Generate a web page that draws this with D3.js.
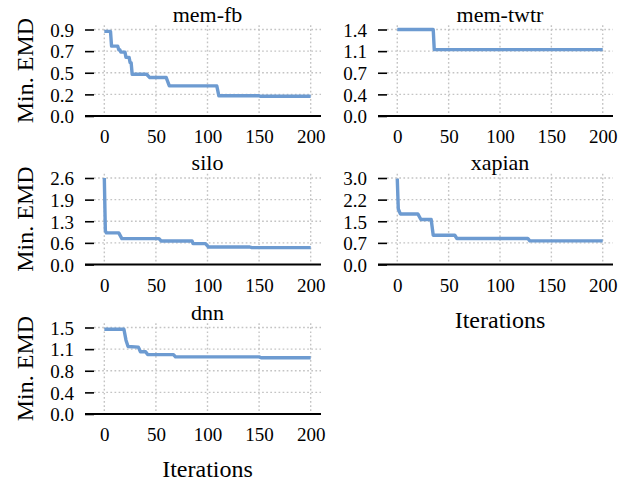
<!DOCTYPE html>
<meta charset="utf-8">
<style>
    body { margin: 0; background: #fff; }
    svg { display: block; }
    .grid line { stroke: #c4c4c4; stroke-width: 1.4; stroke-dasharray: 1.7,2.4; }
    .emd { fill: none; stroke: #6d9bd1; stroke-width: 3.4; stroke-linejoin: round; }
</style>
<svg width="641" height="483"></svg>
<script src="https://d3js.org/d3.v7.min.js"></script>
<script>

    // panel titles, in drawing order
    var titles = ["mem-fb", "mem-twtr", "silo", "xapian", "dnn"];

    // x ticks (iterations)
    var xTicks = [0, 50, 100, 150, 200];

    // min EMD so far
    var memFbIter = [0, 6, 7, 13, 14, 15, 16, 20, 21, 24, 25, 26, 27, 41, 44, 60, 63, 109, 111, 150, 151, 200];
    var memFbEmd  = [0.88, 0.88, 0.727, 0.727, 0.69, 0.69, 0.665, 0.665, 0.61, 0.61, 0.555, 0.555, 0.434, 0.434, 0.40, 0.40, 0.313, 0.313, 0.21, 0.21, 0.205, 0.205];

    var memTwtrIter = [0, 35, 36, 200];
    var memTwtrEmd  = [1.42, 1.42, 1.09, 1.09];

    var siloIter = [0, 1, 2, 14, 17, 53, 55, 85, 86, 98, 101, 141, 143, 200];
    var siloEmd  = [2.57, 1.0, 0.94, 0.94, 0.77, 0.77, 0.70, 0.70, 0.62, 0.62, 0.52, 0.52, 0.50, 0.50];

    var xapianIter = [0, 1, 3, 20, 23, 33, 35, 56, 58, 127, 129, 200];
    var xapianEmd  = [2.94, 1.9, 1.73, 1.73, 1.54, 1.54, 1.0, 1.0, 0.89, 0.89, 0.81, 0.81];

    var dnnIter = [0, 19, 21, 23, 33, 35, 40, 42, 67, 69, 150, 152, 200];
    var dnnEmd  = [1.47, 1.47, 1.28, 1.17, 1.16, 1.08, 1.08, 1.03, 1.03, 0.99, 0.99, 0.975, 0.975];

    // y axis top value and tick labels per panel
    var yMax = [0.9, 1.42, 2.57, 2.96, 1.5];
    var yTickLabels = [
        ["0.0", "0.2", "0.5", "0.7", "0.9"],
        ["0.0", "0.4", "0.7", "1.1", "1.4"],
        ["0.0", "0.6", "1.3", "1.9", "2.6"],
        ["0.0", "0.7", "1.5", "2.2", "3.0"],
        ["0.0", "0.4", "0.8", "1.1", "1.5"]
    ];

    var series = [
        [memFbIter, memFbEmd],
        [memTwtrIter, memTwtrEmd],
        [siloIter, siloEmd],
        [xapianIter, xapianEmd],
        [dnnIter, dnnEmd]
    ];

    var serif = "'Liberation Serif', 'Times New Roman', serif";
    var svg = d3.select("svg");

    var colLeft = [94, 387],
        colWidth = [227, 226],
        rowAxis = [116, 264.5, 414],
        tickH = 86.5;

    titles.forEach(function(title, i) {
        var col = i % 2, row = Math.floor(i / 2);
        var left = colLeft[col], right = left + colWidth[col];
        var bottom = rowAxis[row], top = bottom - tickH * 1.05;

        var x = d3.scaleLinear().domain([-10, 210]).range([left, right]);
        var y = d3.scaleLinear().domain([0, yMax[i] * 1.05]).range([bottom, top]);
        var yTicks = d3.range(5).map(function(k) { return yMax[i] * k / 4; });

        var g = svg.append("g");

        // grid
        var grid = g.append("g").attr("class", "grid");
        grid.selectAll(".gx").data(xTicks).enter().append("line")
            .attr("x1", function(d) { return x(d); })
            .attr("x2", function(d) { return x(d); })
            .attr("y1", top).attr("y2", bottom);
        grid.selectAll(".gy").data(yTicks.slice(1)).enter().append("line")
            .attr("x1", left).attr("x2", right)
            .attr("y1", function(d) { return y(d); })
            .attr("y2", function(d) { return y(d); });

        // y axis
        var ya = g.append("g")
            .attr("transform", "translate(" + left + ",0)")
            .call(d3.axisLeft(y)
                .tickValues(yTicks)
                .tickSize(9)
                .tickPadding(11)
                .tickFormat(function(d, k) { return yTickLabels[i][k]; }));
        ya.select(".domain").remove();
        ya.selectAll("line").attr("stroke", "#000").attr("stroke-width", 1.6);
        ya.selectAll("text")
            .style("font-family", serif).style("font-size", "19px")
            .attr("fill", "#000").attr("dy", "0.36em");

        // x axis
        var xa = g.append("g")
            .attr("transform", "translate(0," + bottom + ")")
            .call(d3.axisBottom(x)
                .tickValues(xTicks)
                .tickSize(0)
                .tickPadding(14));
        xa.select(".domain").remove();
        xa.selectAll("text")
            .style("font-family", serif).style("font-size", "19px")
            .attr("fill", "#000");

        g.append("line")
            .attr("x1", left - 9).attr("x2", right)
            .attr("y1", bottom).attr("y2", bottom)
            .attr("stroke", "#000").attr("stroke-width", 2.2);

        // data line
        var pts = series[i][0].map(function(it, k) { return [it, series[i][1][k]]; });
        g.append("path")
            .datum(pts)
            .attr("class", "emd")
            .attr("d", d3.line()
                .x(function(d) { return x(d[0]); })
                .y(function(d) { return y(d[1]); }));

        // title
        g.append("text")
            .attr("x", (left + right) / 2)
            .attr("y", y(yMax[i]) - 8)
            .attr("text-anchor", "middle")
            .style("font-family", serif).style("font-size", "22px")
            .text(title);

        if (col === 0) {
            g.append("text")
                .attr("transform", "translate(33," + (top + bottom) / 2 + ") rotate(-90)")
                .attr("text-anchor", "middle")
                .style("font-family", serif).style("font-size", "24px")
                .text("Min. EMD");
        }
        if (i === 3 || i === 4) {
            g.append("text")
                .attr("x", (left + right) / 2)
                .attr("y", bottom + 63)
                .attr("text-anchor", "middle")
                .style("font-family", serif).style("font-size", "24px")
                .text("Iterations");
        }
    });

</script>
